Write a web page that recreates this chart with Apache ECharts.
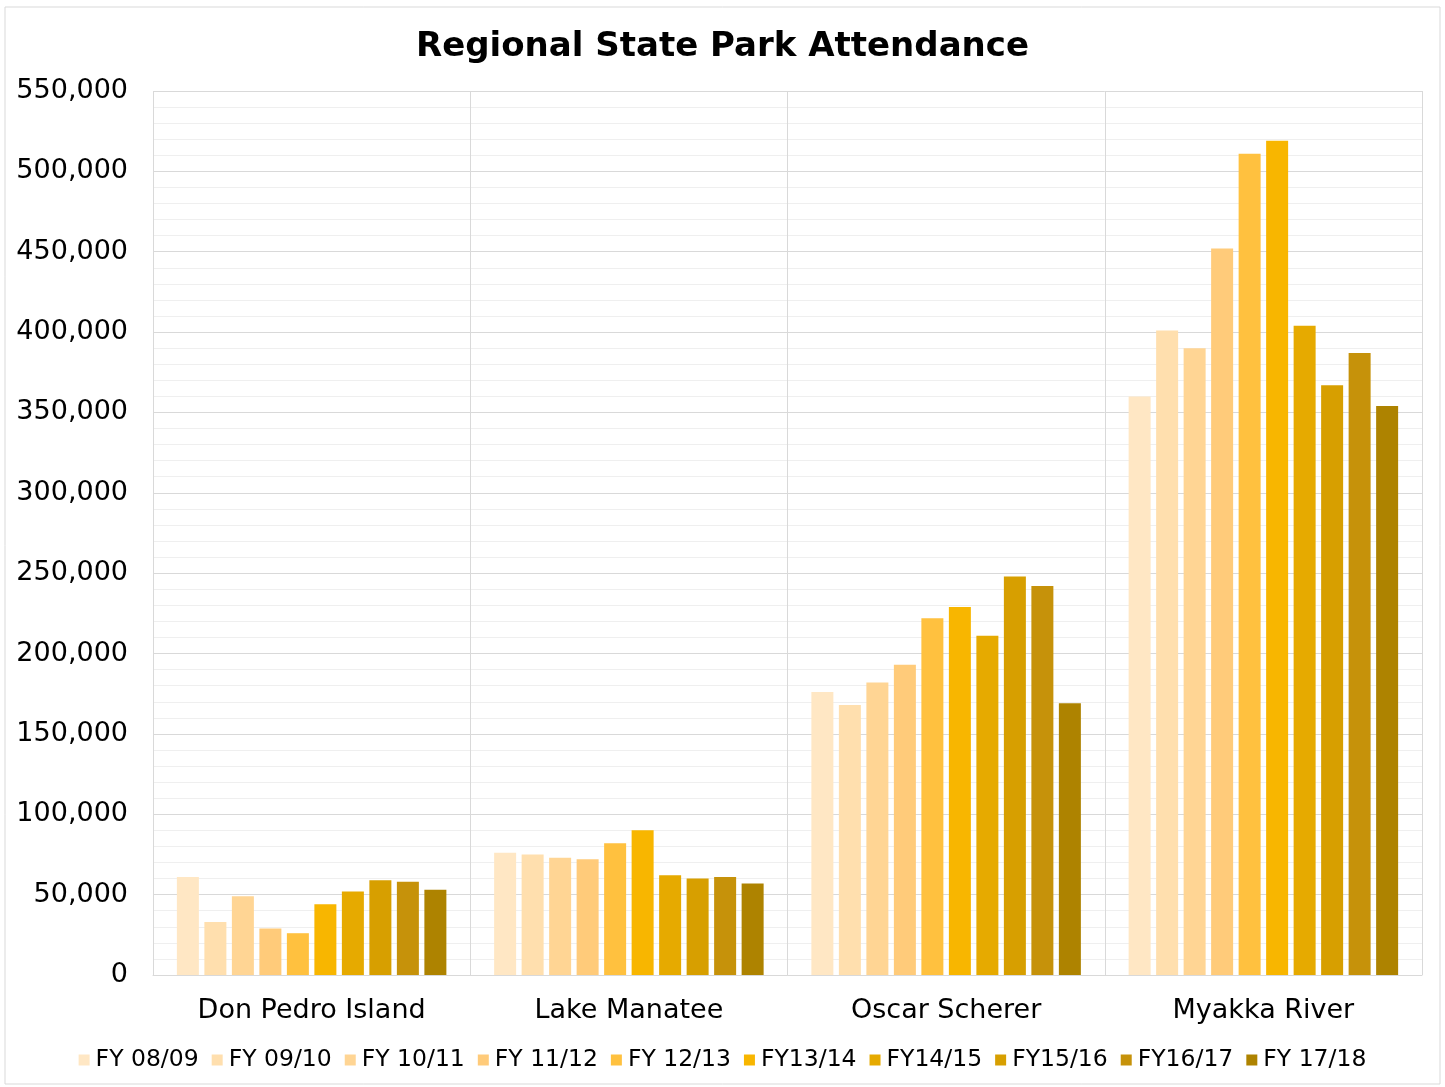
<!DOCTYPE html>
<html>
<head>
<meta charset="utf-8">
<script src="https://cdn.jsdelivr.net/npm/echarts@6/dist/echarts.min.js"></script>
<style>
  html, body { margin: 0; padding: 0; background: #fff; }
  #chart { width: 1445px; height: 1087px; }
</style>
</head>
<body>
<div id="chart"></div>
<script>
const parks = ['Don Pedro Island', 'Lake Manatee', 'Oscar Scherer', 'Myakka River']
const years = ['FY 08/09', 'FY 09/10', 'FY 10/11', 'FY 11/12', 'FY 12/13', 'FY13/14', 'FY14/15', 'FY15/16', 'FY16/17', 'FY 17/18']

// one array per park, FY 08/09 .. FY 17/18
const donPedro = [61000, 33000, 49000, 29000, 26000, 44000, 52000, 59000, 58000, 53000]
const lakeManatee = [76000, 75000, 73000, 72000, 82000, 90000, 62000, 60000, 61000, 57000]
const oscarScherer = [176000, 168000, 182000, 193000, 222000, 229000, 211000, 248000, 242000, 169000]
const myakkaRiver = [360000, 401000, 390000, 452000, 511000, 519000, 404000, 367000, 387000, 354000]

const colors = ['#ffe7c4', '#ffdfae', '#ffd594', '#ffcb7a', '#ffc13f', '#f8b600', '#e6aa00', '#d79f00', '#c6920a', '#ae8300']

const byPark = [donPedro, lakeManatee, oscarScherer, myakkaRiver]
const font = 'Verdana, "DejaVu Sans", sans-serif'

const chart = echarts.init(document.getElementById('chart'))

chart.setOption({
  backgroundColor: '#fff',
  animation: false,
  title: {
    text: 'Regional State Park Attendance',
    left: 'center',
    top: 25,
    textStyle: { fontFamily: font, fontSize: 34, fontWeight: 'bold', color: '#000' },
  },
  graphic: [{
    type: 'rect',
    shape: { x: 5, y: 7, width: 1435, height: 1077 },
    style: { fill: 'none', stroke: '#d9d9d9', lineWidth: 1 },
    silent: true,
  }],
  legend: {
    bottom: 10,
    left: 'center',
    itemWidth: 11,
    itemHeight: 11,
    itemGap: 13,
    icon: 'rect',
    textStyle: { fontFamily: font, fontSize: 23.5, color: '#000', padding: [0, 0, 0, 1] },
    data: years,
  },
  grid: { left: 153, right: 23, top: 91, bottom: 112 },
  xAxis: {
    type: 'category',
    data: parks,
    axisTick: { show: false },
    axisLine: { lineStyle: { color: '#d9d9d9' } },
    axisLabel: { fontFamily: font, fontSize: 27, color: '#000', margin: 22 },
    splitLine: { show: true, lineStyle: { color: '#d9d9d9' } },
  },
  yAxis: {
    type: 'value',
    min: 0,
    max: 550000,
    interval: 50000,
    axisLabel: {
      fontFamily: font, fontSize: 27, color: '#000', margin: 25,
      formatter: v => v.toLocaleString('en-US'),
    },
    splitLine: { lineStyle: { color: '#d9d9d9' } },
    minorTick: { show: false, splitNumber: 5 },
    minorSplitLine: { show: true, lineStyle: { color: '#efefef' } },
  },
  series: years.map((y, i) => ({
    name: y,
    type: 'bar',
    barWidth: 22,
    barGap: '25%',
    itemStyle: { color: colors[i] },
    data: byPark.map(p => p[i]),
  })),
})
</script>
</body>
</html>
